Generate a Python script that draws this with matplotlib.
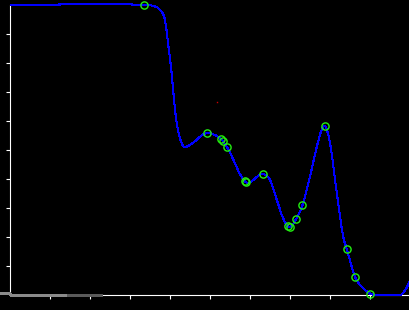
import numpy as np
import matplotlib
matplotlib.use("Agg")
import matplotlib.pyplot as plt
from matplotlib.path import Path
from matplotlib.patches import PathPatch, Rectangle

# Blue curve points (data units)
line_x = [0.0, 3.35, 3.575, 3.75, 3.875, 3.95, 4.04, 4.125, 4.2, 4.325, 4.45,
          4.92, 5.275, 5.43, 5.89, 6.33, 6.5, 6.67, 6.83, 6.975, 7.15, 7.31,
          7.5, 7.67, 7.79, 7.875, 8.0, 8.17, 8.33, 8.42, 8.63, 8.79, 9.0,
          9.25, 9.5, 9.7, 9.8, 9.875, 9.95, 10.0, 10.1]
line_y = [10.0, 10.0, 9.97, 9.83, 9.48, 8.69, 7.66, 6.38, 5.69, 5.14, 5.14,
          5.58, 5.37, 5.09, 3.9, 4.17, 3.97, 3.28, 2.64, 2.34, 2.61, 3.09,
          4.08, 5.11, 5.69, 5.83, 5.24, 3.52, 2.01, 1.58, 0.61, 0.29, 0.05,
          0.0, 0.0, 0.0, 0.03, 0.17, 0.34, 0.52, 0.93]

# Green hollow markers
marker_x = [3.35, 4.92, 5.275, 5.32, 5.43, 5.87, 5.90, 6.33, 6.96, 6.99,
            7.15, 7.31, 7.875, 8.42, 8.63, 9.0]
marker_y = [10.0, 5.58, 5.37, 5.31, 5.09, 3.93, 3.88, 4.17, 2.38, 2.33,
            2.61, 3.09, 5.83, 1.58, 0.61, 0.05]

# small red dot
red_x = [5.175]
red_y = [6.66]

# gray traces at bottom-left
gray1_x = [-0.25, 0.0, 0.0, 1.45]
gray1_y = [0.06, 0.06, 0.0, 0.0]
gray2_x = [1.45, 2.275]
gray2_y = [0.0, 0.0]

x_ticks = [1, 2, 3, 4, 5, 6, 7, 8, 9, 10]
y_ticks = [1, 2, 3, 4, 5, 6, 7, 8, 9]

fig = plt.figure(figsize=(4.1, 3.1), dpi=100, facecolor="black")
ax = fig.add_axes([10 / 410, 15 / 310, 400 / 410, 290 / 310])
ax.set_facecolor("black")
ax.set_xlim(0, 10)
ax.set_ylim(0, 10)

# smooth curve via cubic Hermite -> Bezier segments
xs = np.array(line_x)
ys = np.array(line_y)
h = np.diff(xs)
sec = np.diff(ys) / h
m = np.empty_like(ys)
m[0] = sec[0]
m[-1] = sec[-1]
m[1:-1] = (sec[:-1] + sec[1:]) / 2
verts = [(xs[0], ys[0])]
codes = [Path.MOVETO]
for i in range(len(xs) - 1):
    verts += [(xs[i] + h[i] / 3, ys[i] + m[i] * h[i] / 3),
              (xs[i + 1] - h[i] / 3, ys[i + 1] - m[i + 1] * h[i] / 3),
              (xs[i + 1], ys[i + 1])]
    codes += [Path.CURVE4] * 3
patch = PathPatch(Path(verts, codes), facecolor="none", edgecolor="#0000ff",
                  lw=0.75, zorder=4, antialiased=False)
ax.add_patch(patch)
clip = Rectangle((0, -0.02), 1, 1.05, transform=ax.transAxes,
                 facecolor="none", edgecolor="none")
patch.set_clip_path(clip)

ax.plot(gray1_x, gray1_y, color="#8a8a8a", lw=0.8, clip_on=False, zorder=5,
        antialiased=False)
ax.plot(gray2_x, gray2_y, color="#5a5a5a", lw=0.8, clip_on=False, zorder=5,
        antialiased=False)

ax.plot(marker_x, marker_y, linestyle="none", marker="o", ms=5.2,
        mfc="none", mec="#22ee11", mew=1.0, zorder=6, clip_on=False)
ax.plot(red_x, red_y, linestyle="none", marker="s", ms=1.0, mfc="#cc0000",
        mec="none", zorder=6)

for s in ["top", "right"]:
    ax.spines[s].set_visible(False)
for s in ["left", "bottom"]:
    ax.spines[s].set_color("white")
    ax.spines[s].set_linewidth(0.8)
ax.set_xticks(x_ticks)
ax.set_yticks(y_ticks)
ax.tick_params(colors="white", length=3, width=0.8, direction="out",
               labelbottom=False, labelleft=False)

fig.savefig("out.png", dpi=100, facecolor="black")
